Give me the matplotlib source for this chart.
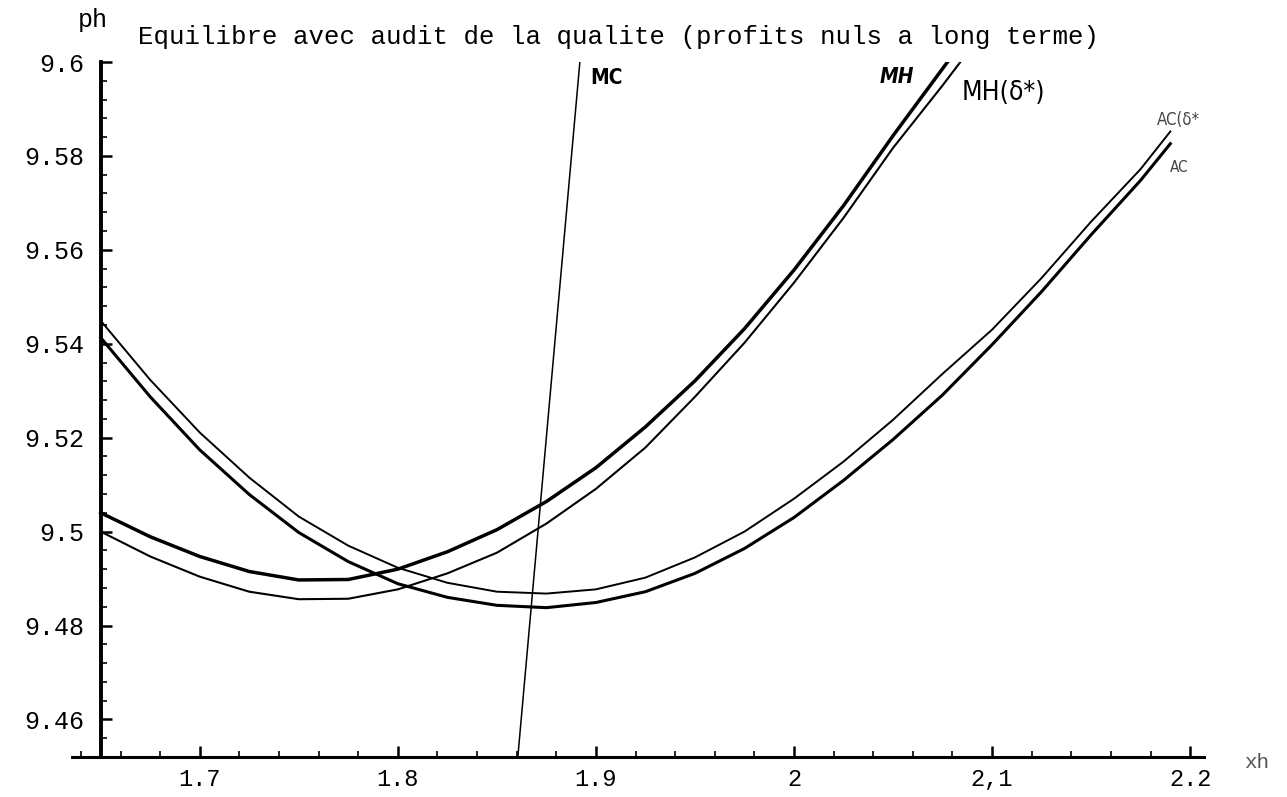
import matplotlib
matplotlib.use("Agg")
import matplotlib.pyplot as plt
from matplotlib.ticker import MultipleLocator, FixedLocator

# ---- data ----
mh_x = [1.65, 1.675, 1.70, 1.725, 1.75, 1.775, 1.80, 1.825, 1.85, 1.875, 1.90,
        1.925, 1.95, 1.975, 2.00, 2.025, 2.05, 2.0775]
mh_y = [9.5040, 9.4989, 9.4947, 9.4915, 9.4897, 9.4898, 9.4920, 9.4957, 9.5004, 9.5064, 9.5136,
        9.5223, 9.5321, 9.5432, 9.5557, 9.5694, 9.5843, 9.6000]

mhd_x = [1.65, 1.675, 1.70, 1.725, 1.75, 1.775, 1.80, 1.825, 1.85, 1.875, 1.90,
         1.925, 1.95, 1.975, 2.00, 2.025, 2.05, 2.075, 2.084]
mhd_y = [9.5000, 9.4947, 9.4904, 9.4872, 9.4856, 9.4857, 9.4877, 9.4911, 9.4955, 9.5017, 9.5091,
         9.5179, 9.5287, 9.5402, 9.5530, 9.5668, 9.5817, 9.5950, 9.6000]

acd_x = [1.65, 1.675, 1.70, 1.725, 1.75, 1.775, 1.80, 1.825, 1.85, 1.875, 1.90, 1.925,
         1.95, 1.975, 2.00, 2.025, 2.05, 2.075, 2.10, 2.125, 2.15, 2.175, 2.19]
acd_y = [9.5449, 9.5323, 9.5211, 9.5115, 9.5032, 9.4970, 9.4923, 9.4891, 9.4872, 9.4868, 9.4877, 9.4902,
         9.4945, 9.5000, 9.5070, 9.5149, 9.5238, 9.5336, 9.5430, 9.5540, 9.5660, 9.5772, 9.5852]

ac_x = [1.65, 1.675, 1.70, 1.725, 1.75, 1.775, 1.80, 1.825, 1.85, 1.875, 1.90, 1.925,
        1.95, 1.975, 2.00, 2.025, 2.05, 2.075, 2.10, 2.125, 2.15, 2.175, 2.19]
ac_y = [9.5413, 9.5287, 9.5174, 9.5079, 9.4998, 9.4936, 9.4889, 9.4860, 9.4843, 9.4838, 9.4849, 9.4872,
        9.4911, 9.4964, 9.5030, 9.5109, 9.5196, 9.5291, 9.5398, 9.5511, 9.5632, 9.5748, 9.5826]

mc_x = [1.8606, 1.8919]
mc_y = [9.4521, 9.6000]

x_ticks = [1.7, 1.8, 1.9, 2.0, 2.1, 2.2]
x_labels = ["1.7", "1.8", "1.9", "2", "2,1", "2.2"]
y_ticks = [9.46, 9.48, 9.50, 9.52, 9.54, 9.56, 9.58, 9.60]
y_labels = ["9.46", "9.48", "9.5", "9.52", "9.54", "9.56", "9.58", "9.6"]

title = "Equilibre avec audit de la qualite (profits nuls a long terme)"

mono = "Liberation Mono"

fig = plt.figure(figsize=(12.87, 7.97), dpi=100)
ax = fig.add_axes([72/1287, 1-757/797, (1204-72)/1287, (757-62)/797])
ax.set_xlim(1.6355, 2.207)
ax.set_ylim(9.452, 9.6)

ax.plot(mh_x, mh_y, color="black", lw=2.5, solid_joinstyle="round")
ax.plot(mhd_x, mhd_y, color="black", lw=1.5, solid_joinstyle="round")
ax.plot(acd_x, acd_y, color="black", lw=1.4, solid_joinstyle="round")
ax.plot(ac_x, ac_y, color="black", lw=2.2, solid_joinstyle="round")
ax.plot(mc_x, mc_y, color="black", lw=1.1)

for s in ["top", "right"]:
    ax.spines[s].set_visible(False)
ax.spines["left"].set_position(("data", 1.65))
ax.spines["left"].set_linewidth(2.8)
ax.spines["bottom"].set_linewidth(2.2)

ax.xaxis.set_major_locator(FixedLocator(x_ticks))
ax.set_xticklabels(x_labels, fontfamily=mono, fontsize=17)
ax.xaxis.set_minor_locator(MultipleLocator(0.02))
ax.yaxis.set_major_locator(FixedLocator(y_ticks))
ax.set_yticklabels(y_labels, fontfamily=mono, fontsize=18)
ax.yaxis.set_minor_locator(MultipleLocator(0.004))
ax.tick_params(axis="both", which="major", direction="in", length=8, width=1.8, color="black")
ax.tick_params(axis="both", which="minor", direction="in", length=4, width=1.2, color="black")
ax.tick_params(axis="x", which="major", pad=8)
ax.tick_params(axis="y", which="major", pad=12)

fig.text(138/1287, 1-37/797, title, fontfamily=mono, fontsize=18.5, va="center", ha="left")
fig.text(93/1287, 1-20/797, "ph", fontfamily=mono, fontsize=18, va="center", ha="center")
fig.text(1244/1287, 1-762/797, "xh", fontfamily=mono, fontsize=15, va="center", ha="left", color="#555555")

hand = dict(fontfamily="DejaVu Sans", va="center", ha="left", fontstretch="condensed")
fig.text(590/1287, 1-78/797, "MC", fontsize=15, fontweight="bold", **hand)
fig.text(880/1287, 1-77/797, "MH", fontsize=15, fontweight="bold", fontstyle="italic", **hand)
fig.text(962/1287, 1-93/797, "MH(δ*)", fontsize=19, **hand)
fig.text(1157/1287, 1-120/797, "AC(δ*", fontsize=12, color="#444444", **hand)
fig.text(1170/1287, 1-168/797, "AC", fontsize=11, color="#444444", **hand)

fig.savefig("out.png", dpi=100)
